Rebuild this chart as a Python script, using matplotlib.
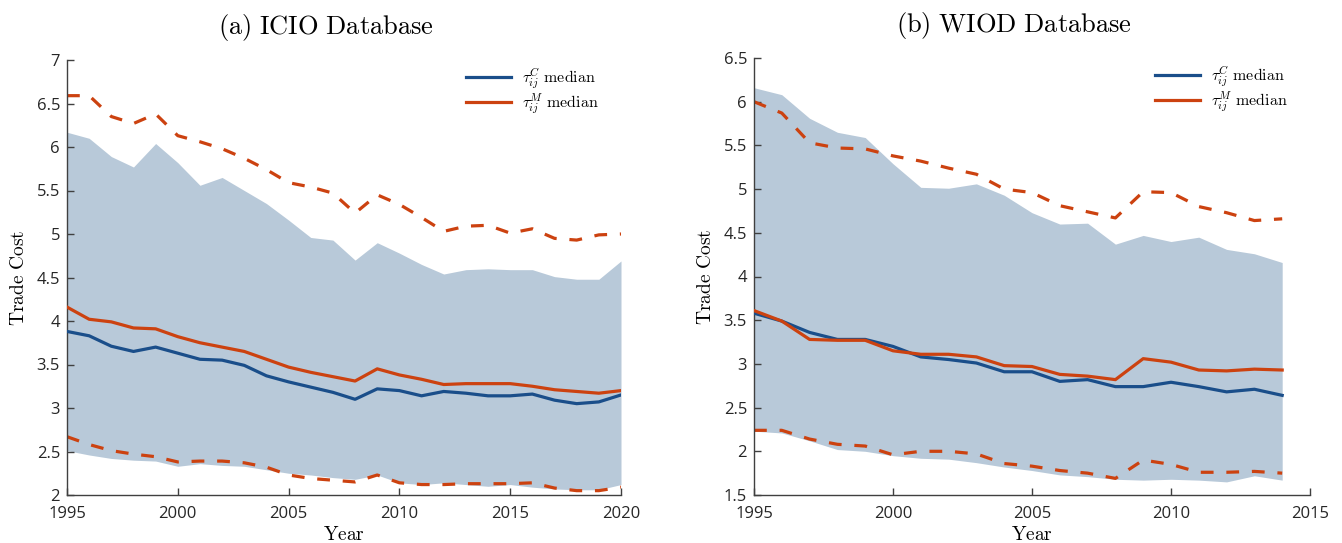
import numpy as np
import matplotlib
matplotlib.use("Agg")
import matplotlib.pyplot as plt

plt.rcParams["mathtext.fontset"] = "cm"
plt.rcParams["font.family"] = ["Open Sans", "DejaVu Sans"]

# ---------------- ICIO (1995-2020) ----------------
icio_years = list(range(1995, 2021))
icio_c_median = [3.88, 3.83, 3.71, 3.65, 3.70, 3.63, 3.56, 3.55, 3.49, 3.37, 3.30, 3.24, 3.18, 3.10,
                 3.22, 3.20, 3.14, 3.19, 3.17, 3.14, 3.14, 3.16, 3.09, 3.05, 3.07, 3.15]
icio_c_low = [2.51, 2.46, 2.42, 2.40, 2.39, 2.33, 2.36, 2.34, 2.33, 2.29, 2.25, 2.23, 2.20, 2.18,
              2.23, 2.14, 2.12, 2.14, 2.12, 2.10, 2.12, 2.09, 2.07, 2.06, 2.06, 2.12]
icio_c_high = [6.17, 6.10, 5.89, 5.77, 6.04, 5.82, 5.56, 5.65, 5.50, 5.35, 5.16, 4.96, 4.93, 4.70,
               4.90, 4.78, 4.65, 4.54, 4.59, 4.60, 4.59, 4.59, 4.51, 4.48, 4.48, 4.69]
icio_m_median = [4.16, 4.02, 3.99, 3.92, 3.91, 3.82, 3.75, 3.70, 3.65, 3.56, 3.47, 3.41, 3.36, 3.31,
                 3.45, 3.38, 3.33, 3.27, 3.28, 3.28, 3.28, 3.25, 3.21, 3.19, 3.17, 3.20]
icio_m_low = [2.67, 2.58, 2.51, 2.47, 2.44, 2.38, 2.39, 2.39, 2.37, 2.32, 2.23, 2.19, 2.17, 2.15,
              2.23, 2.14, 2.12, 2.12, 2.13, 2.13, 2.13, 2.14, 2.08, 2.05, 2.05, 2.09]
icio_m_high = [6.59, 6.59, 6.35, 6.27, 6.38, 6.13, 6.06, 5.98, 5.87, 5.74, 5.59, 5.54, 5.47, 5.24,
               5.45, 5.34, 5.19, 5.03, 5.09, 5.10, 5.01, 5.06, 4.95, 4.93, 4.99, 5.00]

# ---------------- WIOD (1995-2014) ----------------
wiod_years = list(range(1995, 2015))
wiod_c_median = [3.58, 3.49, 3.36, 3.28, 3.28, 3.20, 3.08, 3.05, 3.01, 2.91, 2.91, 2.80, 2.82, 2.74,
                 2.74, 2.79, 2.74, 2.68, 2.71, 2.64]
wiod_c_low = [2.23, 2.21, 2.12, 2.02, 2.00, 1.95, 1.92, 1.91, 1.87, 1.82, 1.78, 1.73, 1.71, 1.68,
              1.67, 1.68, 1.67, 1.65, 1.72, 1.67]
wiod_c_high = [6.16, 6.08, 5.81, 5.65, 5.59, 5.29, 5.02, 5.01, 5.06, 4.93, 4.73, 4.60, 4.61, 4.37,
               4.47, 4.40, 4.45, 4.31, 4.26, 4.16]
wiod_m_median = [3.61, 3.49, 3.28, 3.27, 3.27, 3.15, 3.11, 3.11, 3.08, 2.98, 2.97, 2.88, 2.86, 2.82,
                 3.06, 3.02, 2.93, 2.92, 2.94, 2.93]
wiod_m_low = [2.24, 2.24, 2.14, 2.08, 2.06, 1.96, 2.00, 2.00, 1.97, 1.86, 1.83, 1.78, 1.75, 1.69,
              1.90, 1.85, 1.76, 1.76, 1.77, 1.75]
wiod_m_high = [6.00, 5.87, 5.53, 5.47, 5.46, 5.38, 5.32, 5.24, 5.17, 5.00, 4.96, 4.81, 4.74, 4.67,
               4.97, 4.96, 4.80, 4.73, 4.64, 4.66]

BLUE = "#1a4e8a"
RED = "#cc4210"
BAND = "#b8c9d9"
AXC = "#404040"


def draw_panel(ax, years, c_med, c_lo, c_hi, m_med, m_lo, m_hi, title, xlim, xticks, ylim, yticks):
    ax.fill_between(years, c_lo, c_hi, color=BAND, linewidth=0, zorder=1)
    ax.plot(years, c_med, color=BLUE, lw=2.3, zorder=3,
            label=r"$\tau_{ij}^{C}\ \mathrm{median}$")
    ax.plot(years, m_med, color=RED, lw=2.3, zorder=3,
            label=r"$\tau_{ij}^{M}\ \mathrm{median}$")
    ax.plot(years, m_lo, color=RED, lw=2.3, ls=(0, (4, 4)), zorder=2)
    ax.plot(years, m_hi, color=RED, lw=2.3, ls=(0, (4, 4)), zorder=2)

    ax.set_xlim(*xlim)
    ax.set_ylim(*ylim)
    ax.set_xticks(xticks)
    ax.set_yticks(yticks)
    ax.set_yticklabels([f"{v:g}" for v in yticks])
    for s in ("top", "right"):
        ax.spines[s].set_visible(False)
    for s in ("left", "bottom"):
        ax.spines[s].set_color(AXC)
        ax.spines[s].set_linewidth(1.0)
    ax.tick_params(direction="in", length=5, width=1.0, colors=AXC, labelcolor="#262626",
                   labelsize=12)
    ax.tick_params(axis="x", pad=8)
    ax.tick_params(axis="y", pad=5)
    ax.set_title(r"$\mathrm{" + title.replace(" ", r"\ ") + "}$", fontsize=19, pad=19, x=0.467)
    ax.set_xlabel(r"$\mathrm{Year}$", fontsize=14, labelpad=3)
    ax.set_ylabel(r"$\mathrm{Trade\ Cost}$", fontsize=14, labelpad=6)
    ax.legend(loc="upper right", frameon=False, fontsize=11.5, handlelength=2.8,
              handletextpad=0.7, borderaxespad=0.0, borderpad=0.0, labelspacing=0.05,
              bbox_to_anchor=(0.96, 0.985))


fig = plt.figure(figsize=(13.42, 5.43), dpi=100)
ax1 = fig.add_axes([67 / 1342, 48 / 543, 554 / 1342, 435 / 543])
ax2 = fig.add_axes([754 / 1342, 48 / 543, 556 / 1342, 437 / 543])

draw_panel(ax1, icio_years, icio_c_median, icio_c_low, icio_c_high,
           icio_m_median, icio_m_low, icio_m_high, "(a) ICIO Database",
           (1995, 2020), list(range(1995, 2021, 5)), (2, 7), list(np.arange(2, 7.01, 0.5)))
draw_panel(ax2, wiod_years, wiod_c_median, wiod_c_low, wiod_c_high,
           wiod_m_median, wiod_m_low, wiod_m_high, "(b) WIOD Database",
           (1995, 2015), list(range(1995, 2016, 5)), (1.5, 6.5), list(np.arange(1.5, 6.51, 0.5)))

fig.savefig("out.png", dpi=100)
